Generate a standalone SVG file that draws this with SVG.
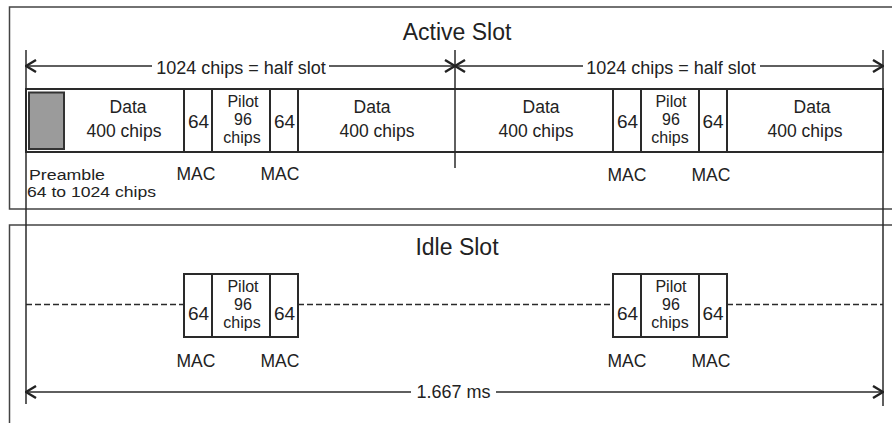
<svg xmlns="http://www.w3.org/2000/svg" width="892" height="423" viewBox="0 0 892 423">
<style>
text{font-family:"Liberation Sans",Arial,sans-serif;fill:#222}
.t{font-size:17.5px;text-anchor:middle}
.n{font-size:19px;text-anchor:middle}
.p{font-size:16px;text-anchor:middle}
.title{font-size:23px;text-anchor:middle}
.pre{font-size:15.5px}
.frame{fill:none;stroke:#444;stroke-width:1.5}
.cell{fill:#fff;stroke:#2a2a2a;stroke-width:2}
.div{stroke:#2a2a2a;stroke-width:2}
.ext{stroke:#2a2a2a;stroke-width:1.5}
.dim{stroke:#2a2a2a;stroke-width:1.5;fill:none}
.dash{stroke:#2a2a2a;stroke-width:1.3;stroke-dasharray:6 3}
</style>
<defs>
<marker id="chev" viewBox="0 0 12 14" refX="11" refY="7" markerWidth="12" markerHeight="14" markerUnits="userSpaceOnUse" orient="auto-start-reverse">
<path d="M1,1 L11,7 L1,13" fill="none" stroke="#222" stroke-width="2.4"/>
</marker>
</defs>
<rect width="892" height="423" fill="#fff"/>

<g id="active-frame">
<path class="frame" d="M892,7 H9.5 V209 H892"/>
<text class="title" x="457" y="40">Active Slot</text>
</g>
<g id="idle-frame">
<path class="frame" d="M892,225 H9.5 V423"/>
<text class="title" x="457" y="255">Idle Slot</text>
</g>

<g id="active-row">
<rect class="cell" x="26" y="89" width="857" height="63"/>
<line class="div" x1="184" y1="89" x2="184" y2="152"/>
<line class="div" x1="212" y1="89" x2="212" y2="152"/>
<line class="div" x1="270" y1="89" x2="270" y2="152"/>
<line class="div" x1="298" y1="89" x2="298" y2="152"/>
<line class="div" x1="613" y1="89" x2="613" y2="152"/>
<line class="div" x1="641" y1="89" x2="641" y2="152"/>
<line class="div" x1="699" y1="89" x2="699" y2="152"/>
<line class="div" x1="727" y1="89" x2="727" y2="152"/>
</g>
<g id="preamble">
<rect x="29" y="92.5" width="35" height="56.5" fill="#9b9b9b" stroke="#333" stroke-width="2"/>
<text class="pre" x="29" y="179.5" textLength="76" lengthAdjust="spacingAndGlyphs">Preamble</text>
<text class="pre" x="27" y="197" textLength="129" lengthAdjust="spacingAndGlyphs">64 to 1024 chips</text>
</g>
<g id="data1"><text class="t" x="128" y="113">Data</text><text class="t" x="124" y="137">400 chips</text></g>
<g id="mac1"><text class="n" x="198.5" y="128">64</text><text class="t" x="196" y="180">MAC</text></g>
<g id="pilot1"><text class="p" x="243" y="107">Pilot</text><text class="p" x="243" y="125">96</text><text class="p" x="242" y="143">chips</text></g>
<g id="mac2"><text class="n" x="284.5" y="128">64</text><text class="t" x="280" y="180">MAC</text></g>
<g id="data2"><text class="t" x="372" y="113">Data</text><text class="t" x="377" y="137">400 chips</text></g>
<g id="data3"><text class="t" x="541" y="113">Data</text><text class="t" x="536" y="137">400 chips</text></g>
<g id="mac3"><text class="n" x="627.5" y="128">64</text><text class="t" x="627" y="181">MAC</text></g>
<g id="pilot2"><text class="p" x="671" y="107">Pilot</text><text class="p" x="671" y="125">96</text><text class="p" x="670" y="143">chips</text></g>
<g id="mac4"><text class="n" x="713" y="128">64</text><text class="t" x="711" y="181">MAC</text></g>
<g id="data4"><text class="t" x="812" y="113">Data</text><text class="t" x="805" y="137">400 chips</text></g>

<g id="idle-burst1">
<rect class="cell" x="184" y="274" width="114" height="63"/>
<line class="div" x1="212" y1="274" x2="212" y2="337"/>
<line class="div" x1="270" y1="274" x2="270" y2="337"/>
<text class="n" x="198.5" y="320">64</text>
<text class="p" x="243" y="292">Pilot</text><text class="p" x="243" y="310">96</text><text class="p" x="242" y="328">chips</text>
<text class="n" x="284.5" y="320">64</text>
<text class="t" x="196" y="367">MAC</text><text class="t" x="280" y="367">MAC</text>
</g>
<g id="idle-burst2">
<rect class="cell" x="613" y="274" width="114" height="63"/>
<line class="div" x1="641" y1="274" x2="641" y2="337"/>
<line class="div" x1="699" y1="274" x2="699" y2="337"/>
<text class="n" x="627.5" y="320">64</text>
<text class="p" x="671" y="292">Pilot</text><text class="p" x="671" y="310">96</text><text class="p" x="670" y="328">chips</text>
<text class="n" x="713" y="320">64</text>
<text class="t" x="627" y="367">MAC</text><text class="t" x="711" y="367">MAC</text>
</g>

<g id="connectors">
<line class="ext" x1="26" y1="50" x2="26" y2="404"/>
<line class="ext" x1="455" y1="50" x2="455" y2="168"/>
<line class="ext" x1="883" y1="50" x2="883" y2="406"/>
<line class="dim" x1="26" y1="66" x2="152" y2="66" marker-start="url(#chev)"/>
<line class="dim" x1="329" y1="66" x2="455" y2="66" marker-end="url(#chev)"/>
<text class="t" x="241" y="74" style="font-size:18px">1024 chips = half slot</text>
<line class="dim" x1="455" y1="66" x2="583" y2="66" marker-start="url(#chev)"/>
<line class="dim" x1="760" y1="66" x2="883" y2="66" marker-end="url(#chev)"/>
<text class="t" x="671" y="74" style="font-size:18px">1024 chips = half slot</text>
<line class="dash" x1="26" y1="304.5" x2="184" y2="304.5"/>
<line class="dash" x1="298" y1="304.5" x2="613" y2="304.5"/>
<line class="dash" x1="727" y1="304.5" x2="883" y2="304.5"/>
<line class="dim" x1="26" y1="392" x2="411" y2="392" marker-start="url(#chev)"/>
<line class="dim" x1="496" y1="392" x2="883" y2="392" marker-end="url(#chev)"/>
<text class="t" x="453.5" y="398" style="font-size:18px">1.667 ms</text>
</g>
</svg>
